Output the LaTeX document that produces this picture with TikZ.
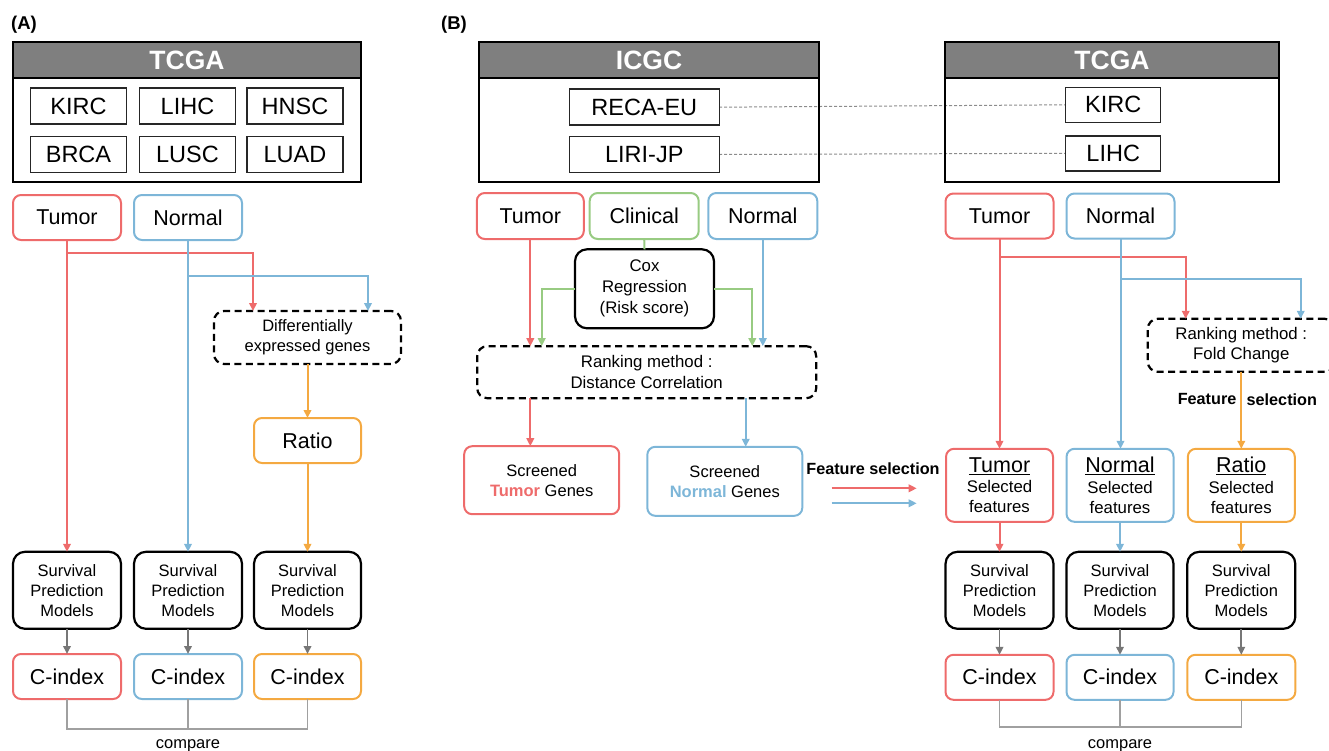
\documentclass[tikz,border=0pt]{standalone}
\usepackage{fontspec}
\setmainfont{Liberation Sans}
\usetikzlibrary{arrows.meta,calc}
\definecolor{cred}{HTML}{EE6B6B}
\definecolor{cblue}{HTML}{7DB6D8}
\definecolor{corange}{HTML}{F4A941}
\definecolor{cgreen}{HTML}{98CB82}
\definecolor{chdr}{HTML}{7F7F7F}
\definecolor{cgrayarr}{HTML}{777777}
\definecolor{cgrayln}{HTML}{A0A0A0}
\begin{document}
\begin{tikzpicture}[x=1pt,y=-1pt,
  sz/.style 2 args={minimum width=#1pt, minimum height=#2pt},
  fs/.style={font=\fontsize{16.5}{20}\selectfont},
  fm/.style={font=\fontsize{21.5}{24}\selectfont},
  fd/.style={font=\fontsize{23.5}{26}\selectfont},
  fb/.style={font=\bfseries\fontsize{16.2}{19}\selectfont, inner sep=0pt},
  fl/.style={font=\bfseries\fontsize{18.5}{20}\selectfont, inner sep=0pt},
  basebox/.style={draw, line width=2pt, rounded corners=8pt, inner sep=0pt, outer sep=0pt, align=center},
  redbox/.style={basebox, draw=cred},
  bluebox/.style={basebox, draw=cblue},
  orangebox/.style={basebox, draw=corange},
  greenbox/.style={basebox, draw=cgreen},
  survbox/.style={basebox, draw=black, line width=2.2pt, rounded corners=12pt},
  dashbox/.style={basebox, draw=black, line width=2.2pt, dash pattern=on 7pt off 4.5pt, rounded corners=10pt},
  dsbox/.style={draw=black!85, line width=1.5pt, inner sep=0pt, outer sep=0pt, fd},
  hdr/.style={fill=chdr, draw=black, line width=2pt, text=white, inner sep=0pt, outer sep=0pt, font=\bfseries\fontsize{26.5}{28}\selectfont},
  outerbox/.style={draw=black, line width=2.6pt, inner sep=0pt, outer sep=0pt},
  con/.style={line width=2pt, -{Triangle[length=8pt,width=7.5pt]}},
  ln/.style={line width=2pt},
  garr/.style={line width=1.8pt, draw=cgrayarr, -{Triangle[length=8pt,width=7.5pt]}},
  cmp/.style={line width=1.3pt, draw=cgrayln},
  dline/.style={line width=1pt, draw=black!45, dash pattern=on 3pt off 2pt}
]
\useasboundingbox (0,0) rectangle (1329,750);

% ================= Panel A =================
\node[fl] (labA) at (24,25) {(A)};
\node[hdr, sz={348}{36}] (tcgaAh) at (187,60) {TCGA};
\node[outerbox, sz={348}{140}] (tcgaA) at (187,112) {};
\node[dsbox, sz={96}{36}] (kircA) at (78.5,106) {KIRC};
\node[dsbox, sz={96}{36}] (lihcA) at (187.5,106) {LIHC};
\node[dsbox, sz={96}{36}] (hnscA) at (295,106) {HNSC};
\node[dsbox, sz={96}{36}] (brcaA) at (78.5,154.5) {BRCA};
\node[dsbox, sz={96}{36}] (luscA) at (187.5,154.5) {LUSC};
\node[dsbox, sz={96}{36}] (luadA) at (295,154.5) {LUAD};

\node[redbox, fm, sz={108}{45}] (tumA) at (67,217.5) {Tumor};
\node[bluebox, fm, sz={108}{45}] (norA) at (188,217.5) {Normal};
\node[dashbox, fs, sz={187}{53}] (degA) at (307.5,337.5) {Differentially\\expressed genes};
\node[orangebox, fm, sz={107}{45}] (ratA) at (307.5,440.5) {Ratio};

\node[survbox, fs, sz={108}{77}] (svA1) at (67,590.3) {Survival\\Prediction\\Models};
\node[survbox, fs, sz={108}{77}] (svA2) at (188,590.3) {Survival\\Prediction\\Models};
\node[survbox, fs, sz={107}{77}] (svA3) at (307.5,590.3) {Survival\\Prediction\\Models};
\node[redbox, fm, sz={108}{45}] (ciA1) at (67,676.5) {C-index};
\node[bluebox, fm, sz={108}{45}] (ciA2) at (188,676.5) {C-index};
\node[orangebox, fm, sz={107}{45}] (ciA3) at (307.5,676.5) {C-index};

\draw[con, cred] (tumA.south) -- (svA1.north);
\draw[con, cred] ($(tumA.south)+(0,13)$) -| ($(degA.north)+(-54.5,0)$);
\draw[con, cblue] (norA.south) -- (svA2.north);
\draw[con, cblue] ($(norA.south)+(0,36)$) -| ($(degA.north)+(60.5,0)$);
\draw[con, corange] (degA.south) -- (ratA.north);
\draw[con, corange] (ratA.south) -- (svA3.north);
\draw[garr] (svA1.south) -- (ciA1.north);
\draw[garr] (svA2.south) -- (ciA2.north);
\draw[garr] (svA3.south) -- (ciA3.north);
\draw[cmp] (ciA1.south) -- ++(0,30) -| (ciA3.south);
\draw[cmp] (ciA2.south) -- ++(0,30);
\node[fs, anchor=base] (cmpA) at (188,748) {compare};

% ================= Panel B =================
\node[fl] (labB) at (454,25) {(B)};
\draw[dline] (649+70,107.2) coordinate (d1) -- (1065.7,104.8) coordinate (d2);
\draw[dline] (649+70,154.5) coordinate (d3) -- (1065.7,153.3) coordinate (d4);

\node[hdr, sz={340}{36}] (icgch) at (649,60) {ICGC};
\node[outerbox, sz={340}{140}] (icgc) at (649,112) {};
\node[dsbox, fill=white, sz={150}{36}] (reca) at (644.3,107.2) {RECA-EU};
\node[dsbox, fill=white, sz={150}{36}] (liri) at (644.3,154.5) {LIRI-JP};

\node[hdr, sz={334}{36}] (tcgaBh) at (1112,60) {TCGA};
\node[outerbox, sz={334}{140}] (tcgaB) at (1112,112) {};
\node[dsbox, fill=white, sz={95}{35}] (kircB) at (1113.2,104.8) {KIRC};
\node[dsbox, fill=white, sz={95}{35}] (lihcB) at (1113.2,153.3) {LIHC};

\node[redbox, fm, sz={107}{46}] (tumB) at (530.3,216) {Tumor};
\node[greenbox, fm, sz={109}{46}] (clin) at (644.2,216) {Clinical};
\node[bluebox, fm, sz={109}{46}] (norB) at (762.8,216) {Normal};
\node[survbox, font=\fontsize{16.8}{21}\selectfont, sz={139}{79}] (cox) at (644.5,288.8) {Cox\\Regression\\(Risk score)};
\node[dashbox, font=\fontsize{16.8}{20.7}\selectfont, sz={339}{52}] (dist) at (646.7,372.2) {Ranking method :\\Distance Correlation};
\node[redbox, fs, sz={155}{68}] (scrT) at (541.7,480.2) {Screened\\{\color{cred}\bfseries Tumor} Genes};
\node[bluebox, fs, sz={155}{69}] (scrN) at (724.8,481.3) {Screened\\{\color{cblue}\bfseries Normal} Genes};

\draw[con, cred] (tumB.south) -- (tumB.south |- dist.north);
\draw[ln, cgreen] (clin.south) -- (cox.north);
\draw[con, cgreen] (cox.west) -| ($(dist.north)+(-105,0)$);
\draw[con, cgreen] (cox.east) -| ($(dist.north)+(105.6,0)$);
\draw[con, cblue] (norB.south) -- (norB.south |- dist.north);
\draw[con, cred] (dist.south -| tumB.south) -- (scrT.north -| tumB.south);
\draw[con, cblue] ($(dist.south)+(99,0)$) -- ($(scrN.north)+(20.9,0)$);

\node[fb] (fsel) at (873,469) {Feature selection};
\coordinate (fr1) at (831.7,488.3);
\coordinate (fr2) at (916.7,488.3);
\coordinate (fb1) at (831.7,503.3);
\coordinate (fb2) at (916.7,503.3);
\draw[con, cred] (fr1) -- (fr2);
\draw[con, cblue] (fb1) -- (fb2);

% right part
\node[redbox, fm, sz={108}{45}] (tumC) at (999.5,216) {Tumor};
\node[bluebox, fm, sz={108}{45}] (norC) at (1120.5,216) {Normal};
\node[dashbox, font=\fontsize{16.8}{20}\selectfont, sz={187}{53}] (fc) at (1241.3,345.3) {Ranking method :\\Fold Change};

\node[redbox, font=\fontsize{16.8}{20.3}\selectfont, sz={107}{73}] (selT) at (999.5,485.3) {{\fontsize{21.5}{20.3}\selectfont\underline{Tumor}}\\Selected\\features};
\node[bluebox, font=\fontsize{16.8}{20.3}\selectfont, sz={107}{73}] (selN) at (1120,485.3) {{\fontsize{21.5}{20.3}\selectfont\underline{Normal}}\\Selected\\features};
\node[orangebox, font=\fontsize{16.8}{20.3}\selectfont, sz={107}{73}] (selR) at (1241.3,485.3) {{\fontsize{21.5}{20.3}\selectfont\underline{Ratio}}\\Selected\\features};

\node[survbox, fs, sz={108}{77}] (svC1) at (999.5,590.3) {Survival\\Prediction\\Models};
\node[survbox, fs, sz={107}{77}] (svC2) at (1120,590.3) {Survival\\Prediction\\Models};
\node[survbox, fs, sz={108}{77}] (svC3) at (1241.3,590.3) {Survival\\Prediction\\Models};
\node[redbox, fm, sz={108}{45}] (ciC1) at (999.5,677.3) {C-index};
\node[bluebox, fm, sz={107}{45}] (ciC2) at (1120,677.3) {C-index};
\node[orangebox, fm, sz={108}{45}] (ciC3) at (1241.3,677.3) {C-index};

\draw[con, cred] (tumC.south) -- (selT.north);
\draw[con, cred] ($(tumC.south)+(0,18.2)$) -| ($(fc.north)+(-55.6,0)$);
\draw[con, cblue] (norC.south) -- (norC.south |- selN.north);
\draw[con, cblue] ($(norC.south)+(0,40.8)$) -| ($(fc.north)+(59.4,0)$);
\draw[con, corange] (fc.south) -- (selR.north);
\node[fb, anchor=east] (fsel2a) at (1236.5,399.3) {Feature};
\node[fb, anchor=west] (fsel2b) at (1246.5,399.3) {selection};

\draw[con, cred] (selT.south) -- (svC1.north);
\draw[con, cblue] (selN.south) -- (svC2.north);
\draw[con, corange] (selR.south) -- (svC3.north);
\draw[garr] (svC1.south) -- (ciC1.north);
\draw[garr] (svC2.south) -- (ciC2.north);
\draw[garr] (svC3.south) -- (ciC3.north);
\draw[cmp] (ciC1.south) -- ++(0,27.3) -| (ciC3.south);
\draw[cmp] (ciC2.south) -- ++(0,27.3);
\node[fs, anchor=base] (cmpC) at (1120,748) {compare};
\end{tikzpicture}
\end{document}
